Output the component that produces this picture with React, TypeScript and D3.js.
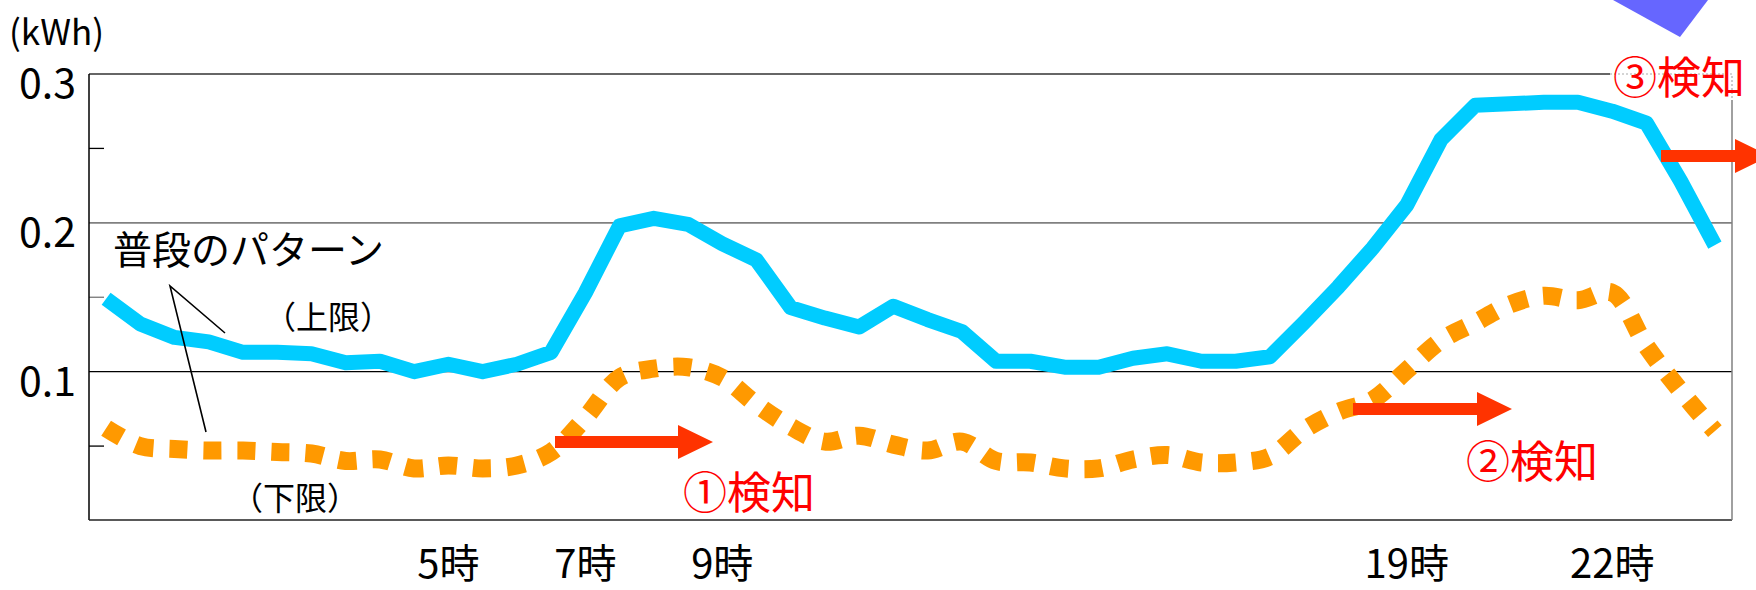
import React from "react";
import * as d3 from "d3";

// half-hour slots 0:00 .. 23:30
const slots = d3.range(48).map((i) => `${Math.floor(i / 2)}:${i % 2 ? "30" : "00"}`);

// 普段のパターン (上限)
const upper = [
  0.149, 0.132, 0.123, 0.12, 0.113, 0.113, 0.112, 0.106, 0.107, 0.1, 0.105, 0.1,
  0.105, 0.113, 0.153, 0.198, 0.203, 0.199, 0.186, 0.175, 0.143, 0.136, 0.13, 0.144,
  0.135, 0.127, 0.107, 0.107, 0.103, 0.103, 0.109, 0.112, 0.107, 0.107, 0.11, 0.133,
  0.157, 0.183, 0.212, 0.256, 0.279, 0.28, 0.281, 0.281, 0.275, 0.267, 0.228, 0.185,
];

// 普段のパターン (下限)
const lower = [
  0.062, 0.05, 0.048, 0.047, 0.047, 0.046, 0.045, 0.04, 0.041, 0.035, 0.037, 0.035,
  0.037, 0.046, 0.069, 0.096, 0.102, 0.103, 0.096, 0.078, 0.063, 0.053, 0.057, 0.051,
  0.047, 0.053, 0.04, 0.039, 0.035, 0.035, 0.041, 0.044, 0.039, 0.039, 0.043, 0.061,
  0.073, 0.081, 0.101, 0.121, 0.133, 0.145, 0.151, 0.148, 0.153, 0.117, 0.087, 0.06,
];

const yTicks = [0.1, 0.2, 0.3];
const yMinor = [0.05, 0.15, 0.25];
const xTickSlots = ["5:00", "7:00", "9:00", "19:00", "22:00"];
const xTickLabels = ["5時", "7時", "9時", "19時", "22時"];

const W = 1756;
const H = 590;
const left = 89;
const right = 1732;
const bottom = 520;
const FONT = "'Noto Sans CJK JP', 'Noto Sans', sans-serif";

const x = d3.scaleBand<string>().domain(slots).range([left, right]);
const cx = (s: string) => (x(s) ?? 0) + x.bandwidth() / 2;
const y = d3.scaleLinear().domain([0, 0.3]).range([520.5, 74]);

const gridColor: Record<number, string> = { 0.1: "#000", 0.2: "#808080", 0.3: "#333" };

const upperLine = d3
  .line<number>()
  .x((_, i) => cx(slots[i]))
  .y((d) => y(d));

const lowerLine = d3
  .line<number>()
  .x((_, i) => cx(slots[i]))
  .y((d) => y(d))
  .curve(d3.curveCatmullRom.alpha(0.5));

function arrow(x0: number, x1: number, yc: number) {
  const hl = 35, hh = 17, sh = 6;
  return `M${x0},${yc - sh}H${x1 - hl}V${yc - hh}L${x1},${yc}L${x1 - hl},${yc + hh}V${yc + sh}H${x0}Z`;
}

export default function App() {
  return (
    <svg
      width={W}
      height={H}
      style={{ position: "absolute", left: 0, top: 0, background: "#fff" }}
      fontFamily={FONT}
    >
      <rect width={W} height={H} fill="#fff" />

      {/* gridlines */}
      {yTicks.map((v) => (
        <line
          key={v}
          x1={left}
          x2={right}
          y1={y(v)}
          y2={y(v)}
          stroke={gridColor[v]}
          strokeWidth={v === 0.2 ? 1.6 : 1.3}
        />
      ))}
      {yMinor.map((v) => (
        <line key={v} x1={left} x2={left + 15} y1={y(v)} y2={y(v)} stroke={v === 0.15 ? "#777" : "#000"} strokeWidth={1.3} />
      ))}

      {/* plot frame */}
      <line x1={left} x2={left} y1={y(0.3)} y2={bottom} stroke="#000" strokeWidth={1.5} />
      <line x1={left} x2={right} y1={bottom} y2={bottom} stroke="#222" strokeWidth={1.5} />
      <line x1={right} x2={right} y1={100} y2={bottom} stroke="#808080" strokeWidth={1.5} />

      {/* y labels */}
      <text x={9} y={45} fontSize={35}>(kWh)</text>
      {yTicks.map((v) => (
        <text key={v} x={76} y={y(v) + 24} fontSize={41} textAnchor="end">
          {v.toFixed(1)}
        </text>
      ))}

      {/* x labels */}
      {xTickSlots.map((s, i) => (
        <text key={s} x={cx(s)} y={578} fontSize={40} textAnchor="middle">
          {xTickLabels[i]}
        </text>
      ))}

      {/* series */}
      <path d={upperLine(upper) ?? ""} fill="none" stroke="#00CCFF" strokeWidth={15} strokeLinejoin="round" />
      <path
        d={lowerLine(lower) ?? ""}
        fill="none"
        stroke="#FF9900"
        strokeWidth={18}
        strokeDasharray="18 16"
      />

      {/* legend callout */}
      <text x={113} y={264} fontSize={39}>普段のパターン</text>
      <path d="M225,333L170,286L206,432" fill="none" stroke="#000" strokeWidth={1.6} />
      <text x={328} y={329} fontSize={32} textAnchor="middle">（上限）</text>
      <text x={295} y={510} fontSize={32} textAnchor="middle">（下限）</text>

      {/* detection arrows */}
      <path d={arrow(555, 713, 442)} fill="#FF3300" />
      <path d={arrow(1353, 1512, 409)} fill="#FF3300" />
      <path d={arrow(1661, 1770, 156)} fill="#FF3300" />

      <text x={683} y={509} fontSize={44} fill="#FF0000">①検知</text>
      <text x={1466} y={478} fontSize={44} fill="#FF0000">②検知</text>

      {/* ③ text box over the top gridline */}
      <rect x={1610} y={50} width={150} height={50} fill="#fff" />
      <path d="M1610,74H1732V100" fill="none" stroke="#aaa" strokeWidth={1.2} strokeDasharray="2 2" />
      <text x={1613} y={94} fontSize={44} fill="#FF0000">③検知</text>

      <polygon points="1613,0 1708,0 1680,37" fill="#6666FF" />
    </svg>
  );
}
